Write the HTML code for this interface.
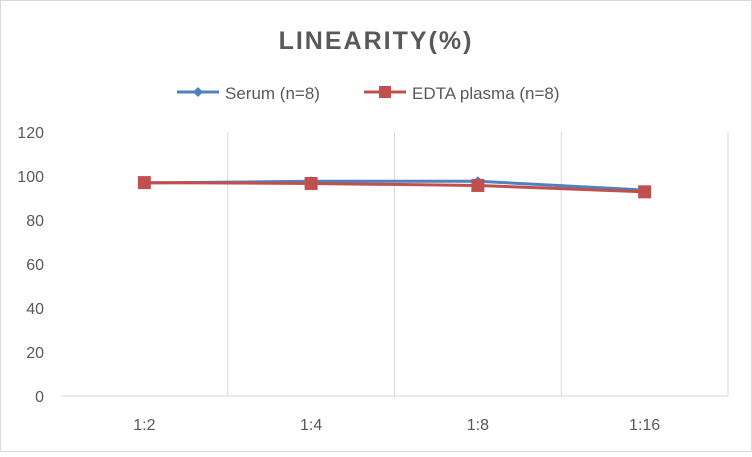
<!DOCTYPE html>
<html><head><meta charset="utf-8"><style>
body{margin:0;background:#fff;font-family:"Liberation Sans",sans-serif}
svg text{font-family:"Liberation Sans",sans-serif}
</style></head><body>
<svg width="752" height="452" xmlns="http://www.w3.org/2000/svg">
<rect x="0.5" y="0.5" width="751" height="451" fill="#fff" stroke="#d9d9d9"/>
<text x="376" y="49" text-anchor="middle" font-size="25" font-weight="bold" fill="#595959" letter-spacing="2">LINEARITY(%)</text>
<g>
<g>
<line x1="177" y1="92" x2="219" y2="92" stroke="#4f81bd" stroke-width="3"/>
<path d="M198 87 L203 92 L198 97 L193 92 Z" fill="#4f81bd"/>
<text x="225" y="99" font-size="17" fill="#595959">Serum (n=8)</text>
</g>
<g>
<line x1="364" y1="92" x2="406" y2="92" stroke="#c0504d" stroke-width="3"/>
<rect x="379" y="86" width="12" height="12" fill="#c0504d"/>
<text x="412" y="99" font-size="17" fill="#595959">EDTA plasma (n=8)</text>
</g>
</g>
<g id="grid"></g><g id="axes"></g><g id="series"></g>
</svg>
<script>
const categories=["1:2","1:4","1:8","1:16"];
const serum=[96.8,97.6,97.6,93.6];
const edta=[97,96.6,95.7,92.8];
const yTicks=[0,20,40,60,80,100,120];
const L=61,R=728,T=132,B=396,yMax=120;
const bw=(R-L)/categories.length;
const xs=i=>L+bw*(i+0.5);
const ys=v=>B-(v/yMax)*(B-T);
const NS="http://www.w3.org/2000/svg";
function mk(t,a,p){const e=document.createElementNS(NS,t);for(const k in a)e.setAttribute(k,a[k]);p.appendChild(e);return e;}
const grid=document.getElementById('grid'),axes=document.getElementById('axes'),ser=document.getElementById('series');
for(let i=1;i<=categories.length;i++){const g=mk('line',{x1:L+bw*i,x2:L+bw*i,y1:T,y2:B,stroke:'#d9d9d9'},grid);

}
const ax=mk('line',{x1:L,x2:R,y1:B,y2:B,stroke:'#d9d9d9'},axes);


yTicks.forEach(v=>{const t=mk('text',{x:44,y:ys(v)+6,'text-anchor':'end','font-size':'16',fill:'#595959'},axes);t.textContent=v;

});
categories.forEach((c,i)=>{const t=mk('text',{x:xs(i),y:430,'text-anchor':'middle','font-size':'16',fill:'#595959'},axes);t.textContent=c;

});
function line(vals,color,name,marker){
 const p=mk('polyline',{points:vals.map((v,i)=>xs(i)+','+ys(v)).join(' '),fill:'none',stroke:color,'stroke-width':3},ser);
 
 
 vals.forEach((v,i)=>{let m;const x=xs(i),y=ys(v);
  if(marker==='d')m=mk('path',{d:`M${x} ${y-5}L${x+5} ${y}L${x} ${y+5}L${x-5} ${y}Z`,fill:color},ser);
  else m=mk('rect',{x:x-6.5,y:y-6.5,width:13,height:13,fill:color},ser);
  
  });
}
line(serum,'#4f81bd','serum','d');
line(edta,'#c0504d','edta','s');
</script>
</body></html>
